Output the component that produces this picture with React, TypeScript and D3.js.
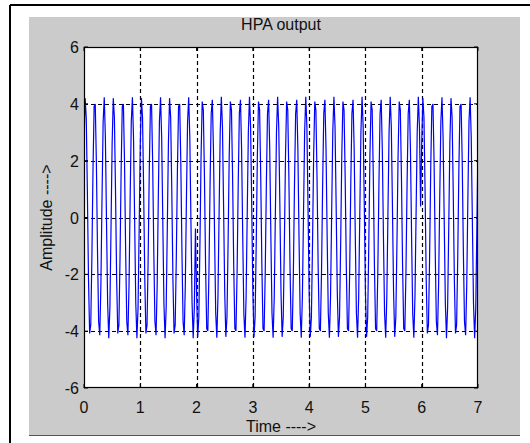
import React from "react";
import * as d3 from "d3";

// ---- data ----
const xTicks = [0, 1, 2, 3, 4, 5, 6, 7];
const yTicks = [-6, -4, -2, 0, 2, 4, 6];
const xDomain = [0, 7];
const yDomain = [-6, 6];
const sampleStep = 0.02;
// sampled carrier levels over one 3-cycle aliasing pattern (25 samples)
const carrierPattern = [
  2.62, 4.2, 3.51, 0.91, -2.18, -4.08, -3.78, -1.42, 1.7, 3.91, 3.99, 1.92, -1.2,
  -3.66, -4.14, -2.38, 0.68, 3.37, 4.23, 2.8, -0.15, -3.02, -4.25, -3.18, -0.39,
];
// BPSK symbol signs, one per time unit
const symbolSigns = [1, 1, -1, -1, -1, -1, 1];
const samplesPerSymbol = 50;
const sampleCount = 351;

const title = "HPA output";
const xLabel = "Time ---->";
const yLabel = "Amplitude ---->";

const series: [number, number][] = [];
for (let k = 0; k < sampleCount; k++) {
  const sym = Math.min(Math.floor(k / samplesPerSymbol), symbolSigns.length - 1);
  series.push([k * sampleStep, symbolSigns[sym] * carrierPattern[k % carrierPattern.length]]);
}

const W = 530;
const H = 443;
const plot = { left: 84, right: 478, top: 47, bottom: 388 };
const FONT = "'Liberation Sans', Arial, Helvetica, sans-serif";

export default function App() {
  const x = d3.scaleLinear().domain(xDomain).range([plot.left, plot.right]);
  const y = d3.scaleLinear().domain(yDomain).range([plot.bottom, plot.top]);
  const line = d3
    .line<[number, number]>()
    .x((d) => x(d[0]))
    .y((d) => y(d[1]));
  const tickLen = 4;

  return (
    <div style={{ position: "absolute", left: 0, top: 0 }}>
      <svg width={W} height={H} style={{ display: "block", background: "#fff" }}>
        {/* window frame */}
        <line x1={10} y1={5} x2={W} y2={5} stroke="#000" strokeWidth={2} />
        <line x1={10} y1={5} x2={10} y2={H} stroke="#000" strokeWidth={2} />
        {/* figure background */}
        <rect x={29} y={17} width={491} height={419} fill="#cbcbcb" />
        <line x1={29} y1={435.5} x2={520} y2={435.5} stroke="#555" strokeWidth={1} />
        {/* axes area */}
        <rect
          x={plot.left}
          y={plot.top}
          width={plot.right - plot.left}
          height={plot.bottom - plot.top}
          fill="#fff"
        />
        <defs>
          <clipPath id="plotclip">
            <rect
              x={plot.left}
              y={plot.top}
              width={plot.right - plot.left}
              height={plot.bottom - plot.top}
            />
          </clipPath>
        </defs>
        {/* grid */}
        {xTicks.slice(1, -1).map((t) => (
          <line
            key={"gx" + t}
            x1={Math.round(x(t)) + 0.5}
            x2={Math.round(x(t)) + 0.5}
            y1={plot.top}
            y2={plot.bottom}
            stroke="#000"
            strokeWidth={1.2}
            strokeDasharray="4,3"
          />
        ))}
        {yTicks.slice(1, -1).map((t) => (
          <line
            key={"gy" + t}
            x1={plot.left}
            x2={plot.right}
            y1={Math.round(y(t)) + 0.5}
            y2={Math.round(y(t)) + 0.5}
            stroke="#000"
            strokeWidth={1.2}
            strokeDasharray="4,3"
          />
        ))}
        {/* signal */}
        <g clipPath="url(#plotclip)">
          <path d={line(series) || ""} fill="none" stroke="#0000ff" strokeWidth={1.2} />
        </g>
        {/* ticks */}
        {xTicks.map((t) => (
          <g key={"tx" + t}>
            <line x1={x(t)} x2={x(t)} y1={plot.bottom} y2={plot.bottom - tickLen} stroke="#000" />
            <line x1={x(t)} x2={x(t)} y1={plot.top} y2={plot.top + tickLen} stroke="#000" />
          </g>
        ))}
        {yTicks.map((t) => (
          <g key={"ty" + t}>
            <line x1={plot.left} x2={plot.left + tickLen} y1={y(t)} y2={y(t)} stroke="#000" />
            <line x1={plot.right} x2={plot.right - tickLen} y1={y(t)} y2={y(t)} stroke="#000" />
          </g>
        ))}
        {/* axes box */}
        <rect
          x={plot.left + 0.5}
          y={plot.top + 0.5}
          width={plot.right - plot.left - 1}
          height={plot.bottom - plot.top - 1}
          fill="none"
          stroke="#000"
          strokeWidth={1.2}
        />
        {/* tick labels */}
        {xTicks.map((t) => (
          <text
            key={"lx" + t}
            x={x(t)}
            y={413}
            textAnchor="middle"
            fontFamily={FONT}
            fontSize={16}
            fill="#111"
          >
            {t}
          </text>
        ))}
        {yTicks.map((t) => (
          <text
            key={"ly" + t}
            x={79}
            y={y(t) + 6}
            textAnchor="end"
            fontFamily={FONT}
            fontSize={16}
            fill="#111"
          >
            {t}
          </text>
        ))}
        {/* titles */}
        <text x={(plot.left + plot.right) / 2} y={30} textAnchor="middle" fontFamily={FONT} fontSize={16} fill="#111">
          {title}
        </text>
        <text x={(plot.left + plot.right) / 2} y={432} textAnchor="middle" fontFamily={FONT} fontSize={16} fill="#111">
          {xLabel}
        </text>
        <text
          transform={`translate(52, ${(plot.top + plot.bottom) / 2}) rotate(-90)`}
          textAnchor="middle"
          fontFamily={FONT}
          fontSize={16}
          fill="#111"
        >
          {yLabel}
        </text>
      </svg>
    </div>
  );
}
